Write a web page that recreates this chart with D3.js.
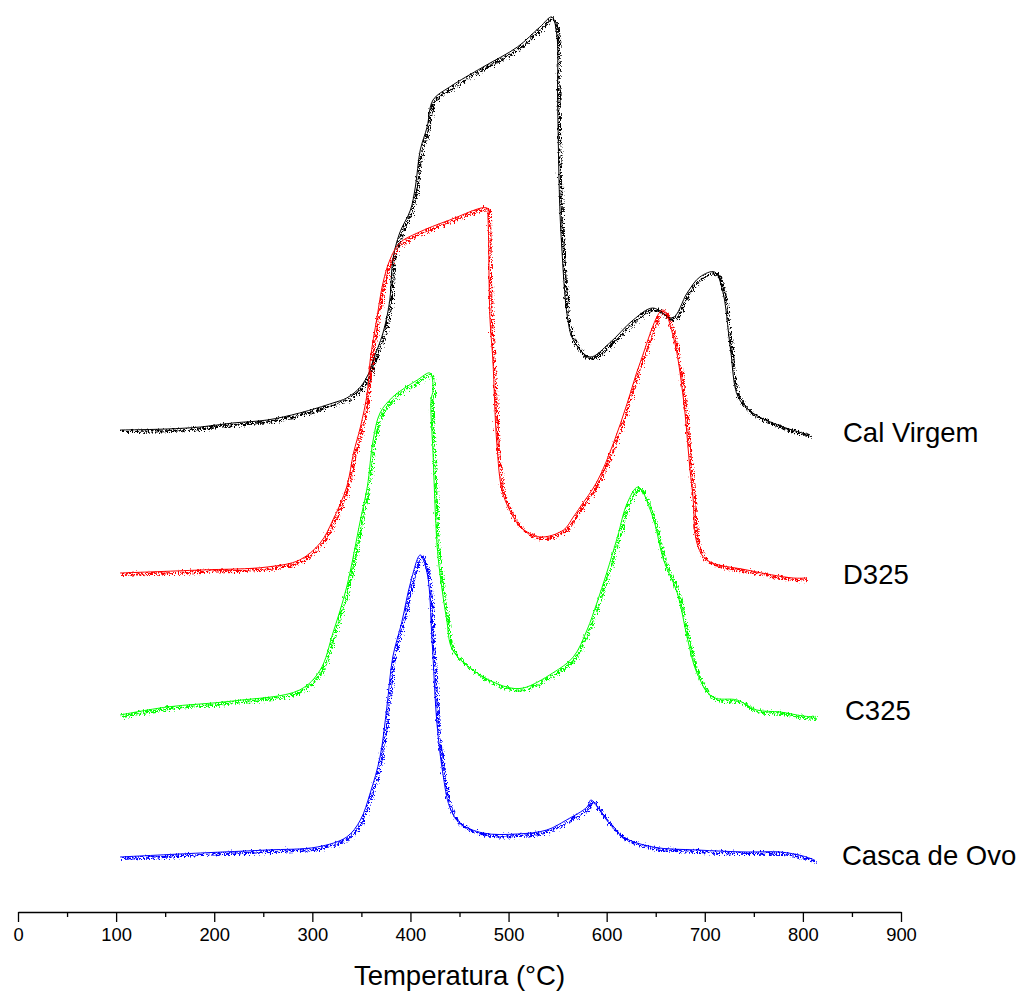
<!DOCTYPE html>
<html>
<head>
<meta charset="utf-8">
<script src="https://cdn.jsdelivr.net/npm/d3@7/dist/d3.min.js"></script>
<style>
  html, body { margin: 0; padding: 0; background: #fff; }
  svg { display: block; }
  text { font-family: "Liberation Sans", Arial, sans-serif; fill: #000; }
</style>
</head>
<body>
<svg id="chart" width="1024" height="992"></svg>
<script>
// ---- data (temperature °C, signal in arbitrary units) ----
const seriesNames = ["Cal Virgem", "D325", "C325", "Casca de Ovo"];
const seriesColors = ["#000000", "#ff0000", "#00ff00", "#0000ff"];

const calVirgemT = [104,152,186,219,254,287,321,335,349,359,362,372,379,382,389,400,405,410,417,423,440,474,509,532,544,549,550,552,554,560,566,583,603,627,647,667,682,695,710,718,726,734,749,780,807];
const calVirgemS = [482,483,485,489,492,499,509,514,525,542,552,579,612,652,679,702,725,762,785,812,825,845,865,885,895,879,812,712,669,595,572,555,569,592,604,594,619,635,640,622,565,515,499,485,477];

const d325T = [104,186,254,287,308,321,335,342,349,356,359,366,372,379,389,407,440,478,479,481,484,488,494,505,512,532,556,566,573,590,607,621,634,657,668,678,685,688,692,702,743,790,803];
const d325S = [339,342,345,352,369,392,425,459,485,519,552,595,629,652,669,679,692,704,695,595,552,469,419,395,385,375,382,395,405,430,469,509,549,602,575,515,442,415,369,352,342,334,334];

const c325T = [104,152,219,287,308,321,335,349,356,362,369,382,407,420,423,421,423,427,430,437,443,468,498,515,545,566,580,590,600,611,621,632,647,658,672,682,692,708,733,753,777,800,812];
const c325S = [197,205,211,222,242,279,325,392,425,472,499,515,532,539,522,512,459,369,339,292,262,239,225,224,239,255,282,309,339,375,409,425,395,352,319,275,239,215,212,202,200,196,195];

const cascaT = [104,186,254,305,335,349,359,369,376,382,391,400,410,417,422,427,433,440,450,474,509,539,559,580,584,600,617,647,692,743,777,800,812];
const cascaS = [55,59,62,65,75,92,119,155,205,255,289,329,357,339,272,189,139,105,89,79,78,82,92,105,112,92,75,65,62,60,60,56,52];

const xTicks = [0,50,100,150,200,250,300,350,400,450,500,550,600,650,700,750,800,850,900];
const xLabelTicks = [0,100,200,300,400,500,600,700,800,900];
const xTitle = "Temperatura (°C)";

// ---- build series ----
const seriesT = [calVirgemT, d325T, c325T, cascaT];
const seriesS = [calVirgemS, d325S, c325S, cascaS];
const series = seriesNames.map((name, i) => ({
  name, color: seriesColors[i],
  points: seriesT[i].map((t, j) => ({ t, s: seriesS[i][j] }))
}));

// ---- layout ----
const svg = d3.select("#chart");
const x = d3.scaleLinear().domain([0, 900]).range([18, 901]);
const y = d3.scaleLinear().domain([0, 900]).range([912, 12]);

// texture filter to mimic the raw signal jitter
const defs = svg.append("defs");
const f = defs.append("filter").attr("id", "jitter")
  .attr("x", "-5%").attr("y", "-5%").attr("width", "110%").attr("height", "110%");
f.append("feTurbulence").attr("type", "turbulence").attr("baseFrequency", "0.6 0.25")
  .attr("numOctaves", 2).attr("seed", 7).attr("result", "noise");
f.append("feDisplacementMap").attr("in", "SourceGraphic").attr("in2", "noise")
  .attr("scale", 7).attr("xChannelSelector", "R").attr("yChannelSelector", "G");

const line = d3.line().x(d => x(d.t)).y(d => y(d.s)).curve(d3.curveCatmullRom.alpha(0.5));

const gLines = svg.append("g");
gLines.selectAll("path.tex").data(series).join("path")
  .attr("class", "tex")
  .attr("d", d => line(d.points))
  .attr("fill", "none")
  .attr("stroke", d => d.color)
  .attr("stroke-width", 2)
  .attr("filter", "url(#jitter)");
gLines.selectAll("path.base").data(series).join("path")
  .attr("class", "base")
  .attr("d", d => line(d.points))
  .attr("fill", "none")
  .attr("stroke", d => d.color)
  .attr("stroke-width", 1);

// series labels
const labelPos = [[843, 442], [843, 584], [845, 720], [842, 865]];
svg.append("g").selectAll("text").data(series).join("text")
  .attr("x", (d, i) => labelPos[i][0])
  .attr("y", (d, i) => labelPos[i][1])
  .attr("font-size", 27.5)
  .text(d => d.name);

// x axis
const axis = d3.axisBottom(x)
  .tickValues(xTicks)
  .tickSize(10)
  .tickSizeOuter(0)
  .tickPadding(6)
  .tickFormat(d => xLabelTicks.includes(d) ? d : "");
const gx = svg.append("g").attr("transform", "translate(0,912)").call(axis);
gx.select(".domain").attr("stroke", "#000").attr("stroke-width", 1.3);
gx.selectAll(".tick line").attr("stroke", "#000").attr("stroke-width", 1.3)
  .attr("y2", d => xLabelTicks.includes(d) ? 10 : 5);
gx.selectAll(".tick text").attr("font-size", 18.4)
  .attr("font-family", "'Liberation Sans', Arial, sans-serif").attr("fill", "#000");

svg.append("text")
  .attr("x", (x(0) + x(900)) / 2)
  .attr("y", 985)
  .attr("text-anchor", "middle")
  .attr("font-size", 27.5)
  .text(xTitle);
</script>
</body>
</html>
